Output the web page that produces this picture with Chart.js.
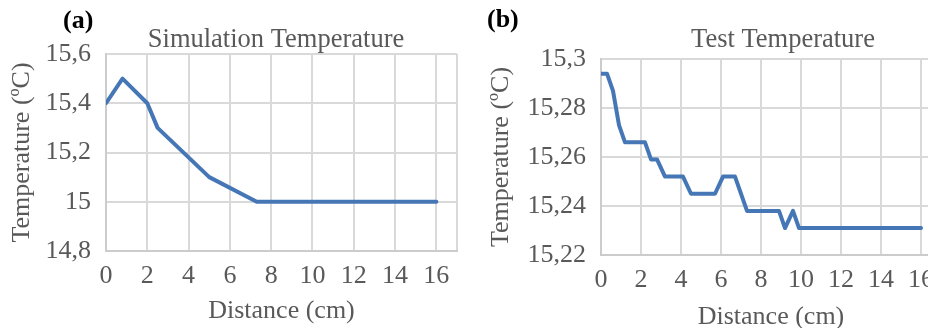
<!DOCTYPE html>
<html>
<head>
<meta charset="utf-8">
<script src="https://cdn.jsdelivr.net/npm/chart.js@4/dist/chart.umd.min.js"></script>
<style>
  html, body { margin: 0; padding: 0; background: #fff; }
  body { width: 928px; height: 328px; overflow: hidden; position: relative; }
  .panel { position: absolute; top: 0; }
</style>
</head>
<body>
<div class="panel" style="left:0px"><canvas id="simChart" width="551" height="328"></canvas></div>
<div class="panel" style="left:470px"><canvas id="testChart" width="627" height="333"></canvas></div>
<script>
// simulation curve (a)
var simDist = [0, 0.8, 2, 2.5, 5, 7.3, 16];
var simTemp = [15.4, 15.5, 15.4, 15.3, 15.1, 15.0, 15.0];
var simYTicks = [14.8, 15, 15.2, 15.4, 15.6];

// measured curve (b)
var testDist = [0, 0.3, 0.6, 0.9, 1.2, 2.2, 2.5, 2.8, 3.2, 4.1, 4.5, 5.7, 6.1, 6.7, 7.3, 8.9, 9.2, 9.6, 9.9, 16];
var testTemp = [15.294, 15.294, 15.287, 15.273, 15.266, 15.266, 15.259, 15.259, 15.252, 15.252,
                15.245, 15.245, 15.252, 15.252, 15.238, 15.238, 15.231, 15.238, 15.231, 15.231];
var testYTicks = [15.22, 15.24, 15.26, 15.28, 15.3];

var distTicks = [0, 2, 4, 6, 8, 10, 12, 14, 16, 17];
var distLabels = ['0', '2', '4', '6', '8', '10', '12', '14', '16', ''];

Chart.defaults.font.family = "'Liberation Serif', serif";
Chart.defaults.font.size = 26;
Chart.defaults.color = '#595959';

var GRID = '#d9d9d9';
var LINE = '#4577b6';

// chart title (centred on the Excel chart object, not the plot) and "(a)" / "(b)" tag
var panelText = {
    id: 'panelText',
    afterDraw: function (chart, args, opts) {
        var ctx = chart.ctx;
        ctx.save();
        ctx.textBaseline = 'alphabetic';
        ctx.font = "bold 26px 'Liberation Serif', serif";
        ctx.fillStyle = '#000';
        ctx.textAlign = 'left';
        ctx.fillText(opts.tag, opts.tagX, opts.tagY);
        ctx.font = "26.5px 'Liberation Serif', serif";
        ctx.fillStyle = '#595959';
        ctx.textAlign = 'center';
        ctx.fillText(opts.title, opts.titleX, opts.titleY);
        ctx.restore();
    }
};

function toPoints(xs, ys) {
    return xs.map(function (x, i) { return { x: x, y: ys[i] }; });
}

function makeChart(id, cfg) {
    var ctx = document.getElementById(id).getContext('2d');
    return new Chart(ctx, {
        type: 'scatter',
        data: {
            datasets: [{
                data: toPoints(cfg.xs, cfg.ys),
                showLine: true,
                borderColor: LINE,
                borderWidth: 4,
                borderJoinStyle: 'round',
                borderCapStyle: 'round',
                pointRadius: 0,
                tension: 0
            }]
        },
        options: {
            responsive: false,
            animation: false,
            devicePixelRatio: 1,
            layout: { padding: { left: 0, top: cfg.padTop, bottom: 0, right: cfg.padRight } },
            plugins: {
                legend: { display: false },
                tooltip: { enabled: false },
                title: { display: false },
                panelText: {
                    tag: cfg.tag, tagX: cfg.tagX, tagY: cfg.tagY,
                    title: cfg.title, titleX: cfg.titleX, titleY: 47
                }
            },
            scales: {
                x: {
                    type: 'linear',
                    min: 0,
                    max: 17,
                    afterBuildTicks: function (axis) {
                        axis.ticks = distTicks.map(function (v) { return { value: v }; });
                    },
                    afterFit: function (axis) { axis.height = cfg.xHeight; },
                    grid: { color: GRID, lineWidth: 2, drawTicks: false },
                    border: { color: '#cccccc', width: 2 },
                    ticks: {
                        padding: cfg.xTickPad,
                        autoSkip: false,
                        maxRotation: 0,
                        callback: function (v, i) { return distLabels[i]; }
                    },
                    title: {
                        display: true,
                        text: 'Distance (cm)',
                        font: { size: 26 },
                        padding: { top: 0, bottom: cfg.xTitleBottom }
                    }
                },
                y: {
                    min: cfg.yTicks[0],
                    max: cfg.yTicks[cfg.yTicks.length - 1],
                    afterBuildTicks: function (axis) {
                        axis.ticks = cfg.yTicks.map(function (v) { return { value: v }; });
                    },
                    afterFit: function (axis) { axis.width = cfg.yWidth; },
                    grid: { color: GRID, lineWidth: 2, drawTicks: false },
                    border: { color: '#cccccc', width: 2 },
                    ticks: {
                        padding: 15,
                        callback: function (v) { return String(v).replace('.', ','); }
                    },
                    title: {
                        display: true,
                        text: 'Temperature (ºC)',
                        font: { size: 26 },
                        padding: { top: cfg.yTitleTop, bottom: 0 }
                    }
                }
            }
        },
        plugins: [panelText]
    });
}

makeChart('simChart', {
    xs: simDist, ys: simTemp, yTicks: simYTicks,
    title: 'Simulation Temperature', titleX: 276, tag: '(a)', tagX: 63, tagY: 28,
    padTop: 54, padRight: 94, yWidth: 106, yTitleTop: 7,
    xHeight: 77, xTickPad: 10, xTitleBottom: 1
});

makeChart('testChart', {
    xs: testDist, ys: testTemp, yTicks: testYTicks,
    title: 'Test Temperature', titleX: 313, tag: '(b)', tagX: 17, tagY: 27,
    padTop: 59, padRight: 156, yWidth: 131, yTitleTop: 16,
    xHeight: 78, xTickPad: 10, xTitleBottom: 0
});
</script>
</body>
</html>
